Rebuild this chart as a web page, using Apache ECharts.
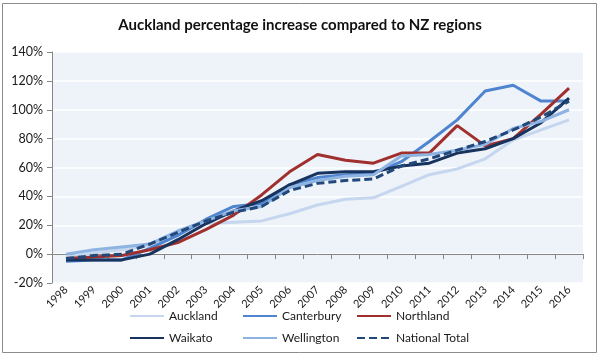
<!DOCTYPE html>
<html>
<head>
<meta charset="utf-8">
<script src="https://cdn.jsdelivr.net/npm/echarts@6/dist/echarts.min.js"></script>
<style>html,body{margin:0;padding:0;background:#fff}#c{width:600px;height:357px}</style>
</head>
<body>
<div id="c"></div>
<script>
const years = ['1998','1999','2000','2001','2002','2003','2004','2005','2006','2007','2008','2009','2010','2011','2012','2013','2014','2015','2016'];
const auckland   = [-2, 1, 3, 6, 14, 21, 22, 23, 28, 34, 38, 39, 47, 55, 59, 66, 79, 86, 93];
const canterbury = [-5, -4, -4, 4, 13, 24, 33, 35, 48, 53, 55, 56, 64, 78, 93, 113, 117, 106, 106];
const northland  = [-3, -2, -1, 3, 8, 17, 27, 41, 57, 69, 65, 63, 70, 70, 89, 75, 80, 97, 115];
const waikato    = [-4, -4, -4, 0, 10, 21, 30, 37, 48, 56, 57, 57, 61, 63, 70, 73, 80, 91, 108];
const wellington = [0, 3, 5, 7, 16, 23, 30, 33, 46, 51, 54, 55, 68, 69, 72, 76, 87, 92, 100];
const national   = [-3, -1, 0, 7, 15, 23, 29, 33, 44, 49, 51, 52, 61, 66, 72, 78, 86, 95, 106];
const seriesNames = ['Auckland','Canterbury','Northland','Waikato','Wellington','National Total'];
const seriesData = [auckland, canterbury, northland, waikato, wellington, national];
const colors = ['#C5D6EE','#4F85CF','#A0302D','#17335E','#8DB3E2','#22487A'];

const FONT = 'Lato';
const chart = echarts.init(document.getElementById('c'));
const legendPos = [[124,305],[237,305],[351,305],[124,327],[237,327],[351,327]];
const legends = seriesNames.map((n,i)=>({
  data:[n], left: legendPos[i][0], top: legendPos[i][1], itemWidth: 34, itemHeight: 10, itemGap: 4,
  itemStyle:{opacity:0},
  textStyle:{fontFamily:FONT, fontSize:12, color:'#1a1a1a'}
}));
chart.setOption({
  animation:false,
  title:{text:'Auckland percentage increase compared to NZ regions', left:'center', top:13,
    textStyle:{fontFamily:FONT, fontWeight:'bold', fontSize:15, color:'#111'}},
  legend: legends,
  grid:{left:52, right:17, top:52, bottom:74, show:true, backgroundColor:'#EEF3FA', borderWidth:0},
  xAxis:{type:'category', data:years, boundaryGap:true,
    axisLine:{onZero:true, lineStyle:{color:'#868686', width:1}},
    axisTick:{show:true, interval:0, length:5, lineStyle:{color:'#868686'}},
    axisLabel:{interval:0, rotate:45, margin:5, fontFamily:FONT, fontSize:11, color:'#1a1a1a'}},
  yAxis:{type:'value', min:-20, max:140, interval:20,
    axisLine:{show:true, lineStyle:{color:'#868686'}},
    axisTick:{show:true, length:5, lineStyle:{color:'#868686'}},
    splitLine:{lineStyle:{color:'#ffffff', width:1.5}},
    axisLabel:{formatter:'{value}%', margin:9, fontFamily:FONT, fontSize:12.5, color:'#1a1a1a'}},
  graphic:[{type:'rect', shape:{x:2.5, y:3.5, width:594, height:349}, style:{fill:'none', stroke:'#8c8c8c', lineWidth:1}, silent:true}],
  series: seriesNames.map((n,i)=>({
    name:n, type:'line', data:seriesData[i], symbol:'none', showSymbol:false,
    lineStyle:{color:colors[i], width:3, type: i===5 ? [8,4] : 'solid'},
    itemStyle:{color:colors[i]}, z: 2+i
  }))
});
</script>
</body>
</html>
